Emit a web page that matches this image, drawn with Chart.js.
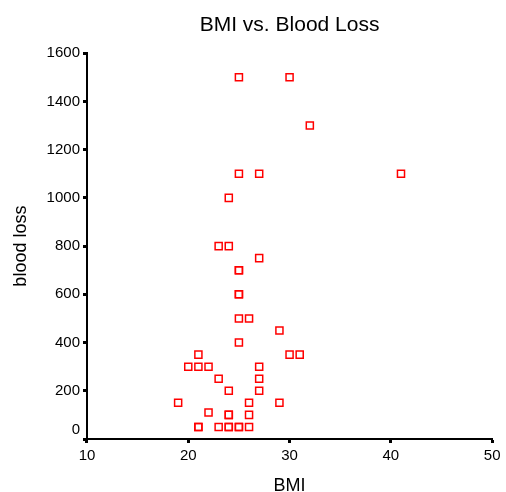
<!DOCTYPE html>
<html>
<head>
<meta charset="utf-8">
<script src="https://cdn.jsdelivr.net/npm/chart.js@4/dist/chart.umd.min.js"></script>
<style>
html,body{margin:0;padding:0;background:#fff;}
#wrap{width:506px;height:492px;}
</style>
</head>
<body>
<div id="wrap"><canvas id="c" width="506" height="492"></canvas></div>
<script>
const bmi = [25, 30, 32, 25, 27, 41, 24, 23, 24, 27, 25, 25, 25, 25, 25, 26, 29, 25, 21, 30, 31, 20, 21, 22, 27, 23, 27, 24, 27, 19, 26, 29, 22, 24, 24, 26, 21, 21, 23, 24, 24, 25, 25, 26];
const bloodLoss = [1500, 1500, 1300, 1100, 1100, 1100, 1000, 800, 800, 750, 700, 700, 600, 600, 500, 500, 450, 400, 350, 350, 350, 300, 300, 300, 300, 250, 250, 200, 200, 150, 150, 150, 110, 100, 100, 100, 50, 50, 50, 50, 50, 50, 50, 50];
const xTicks = [10, 20, 30, 40, 50];
const yTicks = [0, 200, 400, 600, 800, 1000, 1200, 1400, 1600];

const points = bmi.map((x, i) => ({x: x, y: bloodLoss[i]}));
const FONT = "'Liberation Sans', Arial, Helvetica, sans-serif";

new Chart(document.getElementById('c'), {
  type: 'scatter',
  data: {
    datasets: [{
      data: points,
      pointStyle: 'rect',
      pointRadius: 5,
      pointHoverRadius: 5,
      borderColor: '#ff0000',
      backgroundColor: 'rgba(255,255,255,0)',
      borderWidth: 1.5
    }]
  },
  options: {
    responsive: false,
    animation: false,
    devicePixelRatio: 1,
    layout: {padding: {left: 10, right: 4, top: 12, bottom: -3}},
    plugins: {
      legend: {display: false},
      tooltip: {enabled: false},
      title: {display: false}
    },
    scales: {
      top: {
        type: 'linear',
        position: 'top',
        min: 10, max: 50,
        grid: {display: false, drawTicks: false},
        border: {display: false},
        ticks: {display: false},
        title: {
          display: true,
          text: 'BMI vs. Blood Loss',
          color: '#000',
          font: {family: FONT, size: 21, weight: 'normal'},
          padding: {top: 1, bottom: 15}
        }
      },
      x: {
        type: 'linear',
        position: 'bottom',
        min: 10, max: 50,
        afterBuildTicks: (s) => { s.ticks = xTicks.map(v => ({value: v})); },
        ticks: {color: '#000', font: {family: FONT, size: 15, lineHeight: 1}, padding: 5.5, maxRotation: 0},
        grid: {drawOnChartArea: false, drawTicks: true, tickLength: 4, tickWidth: 3, tickColor: '#000'},
        border: {display: true, color: '#000', width: 2},
        title: {display: true, text: 'BMI', color: '#000', font: {family: FONT, size: 18, lineHeight: 1}, padding: {top: 8, bottom: 0}}
      },
      y: {
        type: 'linear',
        min: 0, max: 1600,
        afterBuildTicks: (s) => { s.ticks = yTicks.map(v => ({value: v})); },
        ticks: {
          color: '#000', font: {family: FONT, size: 15}, padding: 3,
          callback: (v) => v === 0 ? ['0', ''] : String(v)
        },
        grid: {drawOnChartArea: false, drawTicks: true, tickLength: 4, tickWidth: 3, tickColor: '#000'},
        border: {display: true, color: '#000', width: 2},
        title: {display: true, text: 'blood loss', color: '#000', font: {family: FONT, size: 18}, padding: {top: 0, bottom: 12}}
      }
    }
  }
});
</script>
</body>
</html>
